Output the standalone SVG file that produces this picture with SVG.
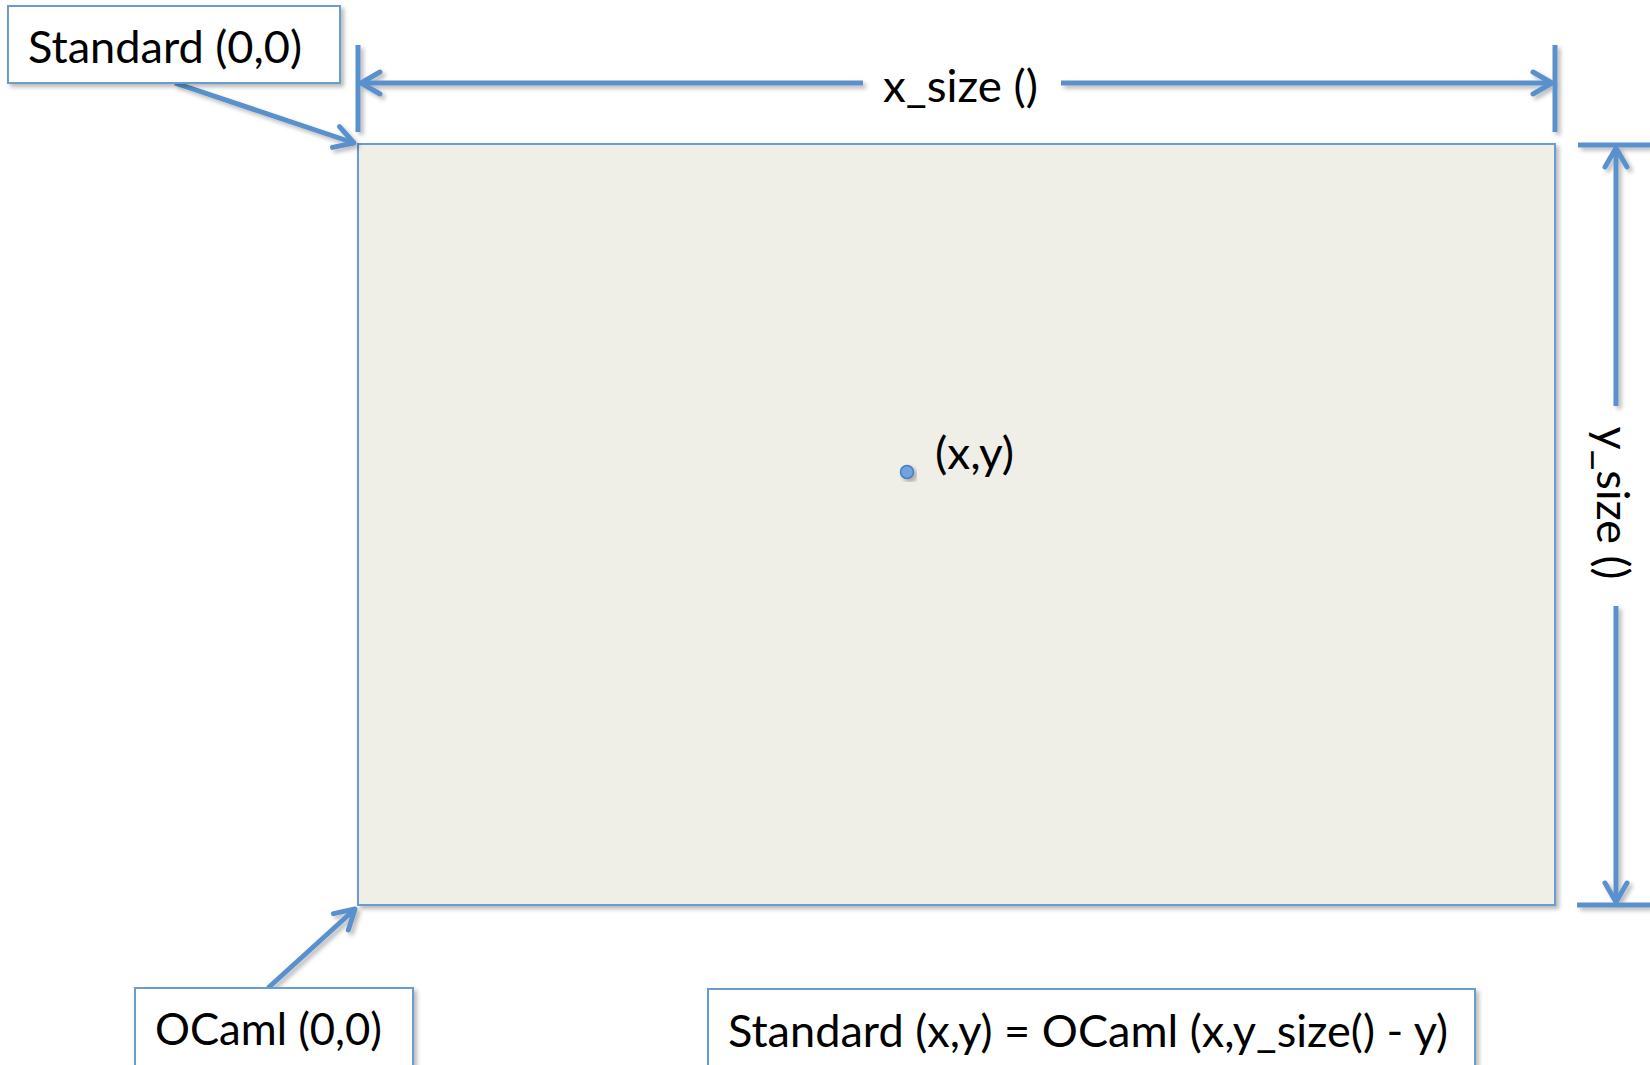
<svg xmlns="http://www.w3.org/2000/svg" width="1650" height="1065" viewBox="0 0 1650 1065">
  <style>
    .lbl { font-family: Lato, "Open Sans", "Liberation Sans", sans-serif; font-size: 45px; fill: #000; }
    .box { fill: #ffffff; stroke: #6b9bd1; stroke-width: 2; }
    .line { fill: none; stroke: #5a91cc; stroke-width: 5; }
    .tick { fill: none; stroke: #5a91cc; stroke-width: 5; }
  </style>
  <defs>
    <filter id="shadow" x="-10%" y="-10%" width="130%" height="130%">
      <feDropShadow dx="3" dy="3" stdDeviation="2" flood-color="#000" flood-opacity="0.28"/>
    </filter>
    <marker id="open" markerUnits="userSpaceOnUse" viewBox="-24 -15 28 30" markerWidth="28" markerHeight="30" refX="0" refY="0" orient="auto">
      <path d="M -19 -11 L 0 0 L -19 11" fill="none" stroke="#5a91cc" stroke-width="5" stroke-linecap="round" stroke-linejoin="round"/>
    </marker>
  </defs>

  <rect width="1650" height="1065" fill="#ffffff"/>

  <!-- drawing surface -->
  <g id="canvas" filter="url(#shadow)">
    <rect x="358" y="144" width="1197" height="761" fill="#efeee7" stroke="#6b9bd1" stroke-width="2"/>
  </g>

  <!-- dimension lines, ticks and callout arrows -->
  <g id="connectors" filter="url(#shadow)">
    <!-- width dimension -->
    <line class="tick" x1="358" y1="45" x2="358" y2="132"/>
    <line class="tick" x1="1555" y1="45" x2="1555" y2="132"/>
    <line class="line" x1="863" y1="83" x2="361" y2="83" marker-end="url(#open)"/>
    <line class="line" x1="1061" y1="83" x2="1552" y2="83" marker-end="url(#open)"/>
    <!-- height dimension -->
    <line class="tick" x1="1578" y1="145" x2="1650" y2="145"/>
    <line class="tick" x1="1577" y1="905" x2="1650" y2="905"/>
    <line class="line" x1="1616" y1="406" x2="1616" y2="148" marker-end="url(#open)"/>
    <line class="line" x1="1616" y1="606" x2="1616" y2="902" marker-end="url(#open)"/>
    <!-- origin callouts -->
    <line class="line" x1="175" y1="83" x2="354" y2="143" marker-end="url(#open)"/>
    <line class="line" x1="268" y1="988" x2="355" y2="909" marker-end="url(#open)"/>
  </g>

  <g id="x-size-label">
    <text class="lbl" x="883" y="102" textLength="155" lengthAdjust="spacingAndGlyphs">x_size ()</text>
  </g>

  <g id="y-size-label">
    <text class="lbl" transform="translate(1597,503) rotate(90)" x="-76.5" y="0" textLength="153" lengthAdjust="spacingAndGlyphs">y_size ()</text>
  </g>

  <g id="standard-origin">
    <rect class="box" x="8" y="6" width="332" height="77" filter="url(#shadow)"/>
    <text class="lbl" x="28" y="63" textLength="274" lengthAdjust="spacingAndGlyphs">Standard (0,0)</text>
  </g>

  <g id="ocaml-origin">
    <rect class="box" x="135" y="988" width="278" height="100" filter="url(#shadow)"/>
    <text class="lbl" x="155" y="1045" textLength="227" lengthAdjust="spacingAndGlyphs">OCaml (0,0)</text>
  </g>

  <g id="conversion">
    <rect class="box" x="708" y="989" width="767" height="100" filter="url(#shadow)"/>
    <text class="lbl" x="728" y="1047" textLength="720" lengthAdjust="spacingAndGlyphs">Standard (x,y) = OCaml (x,y_size() - y)</text>
  </g>

  <g id="point">
    <circle cx="907" cy="472" r="6.5" fill="#6fa3e0" stroke="#4a7ebb" stroke-width="1.5" filter="url(#shadow)"/>
    <text class="lbl" x="935" y="469" textLength="79" lengthAdjust="spacingAndGlyphs">(x,y)</text>
  </g>
</svg>
